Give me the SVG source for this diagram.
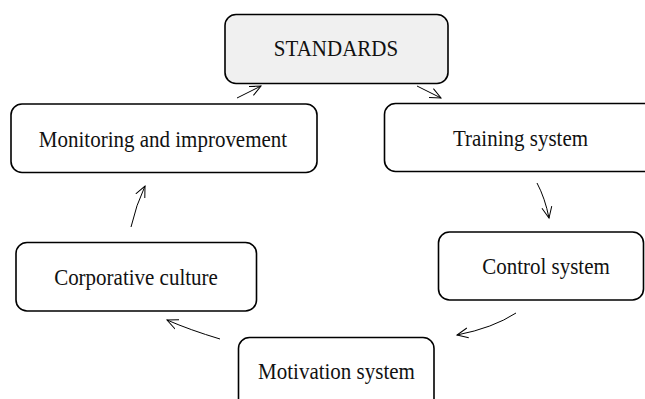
<svg xmlns="http://www.w3.org/2000/svg" width="645" height="399" viewBox="0 0 645 399">
<style>
.box{fill:#fff;stroke:#000;stroke-width:1.6}
.std{fill:#f0f0f0}
.lbl{font-family:"Liberation Serif","Times New Roman",serif;font-size:21px;fill:#111;text-anchor:middle}
.arr{fill:none;stroke:#000;stroke-width:1;marker-end:url(#ah)}
</style>
<defs>
<marker id="ah" markerUnits="userSpaceOnUse" markerWidth="13" markerHeight="13" refX="11" refY="6.5" orient="auto" viewBox="0 0 13 13">
<path d="M0,1.5 L11,6.5 L0,11.5" fill="none" stroke="#000" stroke-width="1"/>
</marker>
</defs>
<rect width="645" height="399" fill="#fff"/>
<g id="standards">
<rect class="box std" x="225" y="14.5" width="223" height="69" rx="11"/>
<text class="lbl" transform="translate(336,55.5) scale(1,1.12)">STANDARDS</text>
</g>
<g id="monitoring">
<rect class="box" x="11" y="104" width="306" height="68.5" rx="11"/>
<text class="lbl" transform="translate(163,146.5) scale(1,1.12)">Monitoring and improvement</text>
</g>
<g id="training">
<rect class="box" x="384.5" y="103.5" width="275" height="68" rx="11"/>
<text class="lbl" transform="translate(520.5,145.5) scale(1,1.12)">Training system</text>
</g>
<g id="control">
<rect class="box" x="438.5" y="232" width="205" height="68" rx="11"/>
<text class="lbl" transform="translate(546,273.5) scale(1,1.12)">Control system</text>
</g>
<g id="corporative">
<rect class="box" x="16" y="242.5" width="240.5" height="68.5" rx="11"/>
<text class="lbl" transform="translate(136,284.5) scale(1,1.12)">Corporative culture</text>
</g>
<g id="motivation">
<rect class="box" x="238.5" y="337.5" width="195.5" height="75" rx="11"/>
<text class="lbl" transform="translate(336.5,378.5) scale(1,1.12)">Motivation system</text>
</g>
<g id="connectors">
<path class="arr" d="M237,98 L261,86"/>
<path class="arr" d="M417,86 L441,98"/>
<path class="arr" d="M537,183 Q545,198 549,218"/>
<path class="arr" d="M516,313 Q493,328 457,335"/>
<path class="arr" d="M220,339 Q190,330 167,320"/>
<path class="arr" d="M131,227 Q136,205 145,186"/>
</g>
</svg>
